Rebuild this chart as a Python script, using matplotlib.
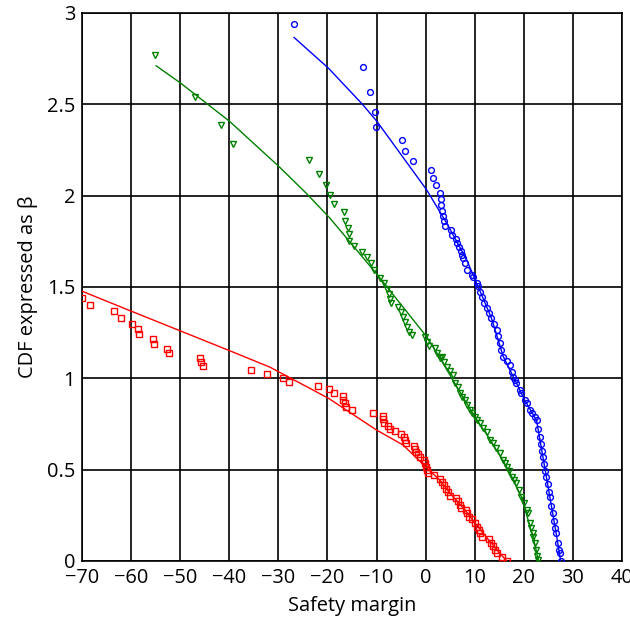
import matplotlib
matplotlib.use("Agg")
import matplotlib.pyplot as plt

plt.rcParams['font.family'] = ['Open Sans', 'DejaVu Sans']

# ---- data ----
red_x = [-69.9, -68.3, -63.5, -62.1, -59.8, -58.5, -58.3, -55.6, -55.4, -52.7, -52.2,
         -45.9, -45.8, -45.4, -35.5, -32.3, -29.0, -27.8, -22.0, -19.6, -18.7, -16.9,
         -16.8, -16.5, -16.3, -14.9, -10.8, -8.7, -8.6, -8.4, -7.6, -7.3, -6.2, -5.1,
         -4.4, -4.2, -3.9, -2.4, -2.2, -2.0, -1.5, -1.1, -0.4, -0.1, 0.0, 0.2, 0.5, 1.7,
         3.0, 3.3, 3.7, 4.1, 4.5, 4.9, 6.2, 6.6, 6.9, 7.3, 8.3, 8.5, 8.9, 9.4, 10.0,
         10.4, 10.8, 11.1, 11.5, 13.0, 13.4, 13.8, 14.2, 14.6, 15.6, 16.5]
red_y = [1.438, 1.400, 1.366, 1.333, 1.300, 1.270, 1.243, 1.214, 1.187, 1.161, 1.137,
         1.113, 1.090, 1.066, 1.044, 1.022, 1.000, 0.979, 0.960, 0.940, 0.920, 0.904,
         0.883, 0.864, 0.845, 0.827, 0.811, 0.794, 0.776, 0.757, 0.739, 0.724, 0.710, 0.694,
         0.679, 0.661, 0.646, 0.631, 0.615, 0.597, 0.584, 0.571, 0.553, 0.535, 0.516, 0.498,
         0.480, 0.471, 0.449, 0.431, 0.415, 0.396, 0.376, 0.356, 0.345, 0.327, 0.308, 0.290,
         0.279, 0.261, 0.243, 0.228, 0.206, 0.188, 0.170, 0.152, 0.133, 0.119, 0.100, 0.082,
         0.060, 0.042, 0.024, 0.002]

green_x = [-55.1, -47.0, -41.6, -39.2, -23.8, -21.8, -20.2, -19.4, -18.6, -16.6, -16.4,
           -15.9, -15.7, -15.7, -14.6, -13.0, -12.0, -11.2, -10.6, -9.2, -8.5, -7.9, -7.5,
           -7.3, -7.1, -5.6, -5.0, -4.7, -4.2, -3.7, -3.3, -2.7, -0.1, 0.3, 0.7, 2.0, 2.4,
           2.9, 3.3, 3.8, 4.3, 4.9, 5.6, 6.0, 6.5, 7.0, 7.5, 8.0, 8.5, 9.0, 9.5, 10.0, 10.5,
           11.1, 11.7, 12.4, 13.1, 13.8, 14.4, 15.1, 15.8, 16.1, 16.5, 17.0, 17.5, 17.9,
           18.5, 19.0, 19.5, 20.0, 20.6, 20.9, 21.2, 21.5, 21.9, 21.9, 22.2, 22.5, 22.6, 22.8]
green_y = [2.771, 2.539, 2.389, 2.282, 2.196, 2.121, 2.059, 2.004, 1.953, 1.909, 1.864,
           1.825, 1.789, 1.754, 1.723, 1.691, 1.663, 1.634, 1.594, 1.551, 1.521, 1.488, 1.461,
           1.433, 1.411, 1.389, 1.364, 1.338, 1.311, 1.283, 1.256, 1.238, 1.225, 1.201, 1.177,
           1.165, 1.137, 1.110, 1.119, 1.090, 1.064, 1.040, 1.019, 0.973, 0.950, 0.918, 0.900,
           0.882, 0.855, 0.827, 0.810, 0.790, 0.770, 0.754, 0.730, 0.708, 0.663, 0.645, 0.620,
           0.590, 0.553, 0.535, 0.516, 0.490, 0.462, 0.444, 0.426, 0.390, 0.352, 0.315, 0.279,
           0.261, 0.206, 0.180, 0.152, 0.133, 0.100, 0.060, 0.030, 0.005]

blue_x = [-26.8, -12.7, -11.4, -10.3, -10.2, -4.8, -4.2, -2.5, 1.1, 1.4, 2.2, 3.0, 3.1,
          3.2, 3.4, 3.6, 3.7, 3.9, 5.2, 5.4, 6.2, 6.4, 6.8, 7.2, 7.5, 7.7, 8.0, 8.5, 9.4,
          9.7, 10.4, 10.7, 11.0, 11.4, 11.9, 12.4, 12.9, 13.4, 14.0, 14.5, 14.8, 15.1, 15.4,
          15.8, 16.5, 17.2, 17.5, 17.8, 18.2, 18.5, 19.2, 19.5, 20.2, 20.6, 21.2, 21.6,
          22.2, 22.6, 22.9, 23.2, 23.4, 23.7, 23.9, 24.2, 24.4, 24.6, 24.9, 25.1, 25.3,
          25.6, 25.9, 26.1, 26.4, 26.6, 26.9, 27.2, 27.3, 27.5]
blue_y = [2.939, 2.707, 2.565, 2.457, 2.375, 2.304, 2.242, 2.189, 2.140, 2.094, 2.056,
          2.017, 1.983, 1.948, 1.917, 1.886, 1.860, 1.835, 1.811, 1.785, 1.762, 1.740, 1.718,
          1.696, 1.674, 1.657, 1.630, 1.594, 1.566, 1.557, 1.521, 1.505, 1.470, 1.447, 1.415,
          1.384, 1.355, 1.329, 1.295, 1.265, 1.230, 1.192, 1.155, 1.119, 1.095, 1.073, 1.037,
          1.010, 0.991, 0.973, 0.936, 0.918, 0.882, 0.864, 0.827, 0.809, 0.790, 0.772, 0.720,
          0.681, 0.640, 0.600, 0.571, 0.530, 0.490, 0.462, 0.420, 0.380, 0.352, 0.300, 0.261,
          0.220, 0.180, 0.152, 0.100, 0.060, 0.042, 0.002]

# fitted curves
red_fit_x = [-70, -60, -50, -40, -31.7, -19.8, -10.0, -4.6, 0.0, 3.0, 5.0, 8.0, 10.0, 13.0, 16.5]
red_fit_y = [1.477, 1.368, 1.260, 1.152, 1.061, 0.891, 0.717, 0.635, 0.516, 0.440, 0.370,
             0.280, 0.210, 0.110, 0.0]
green_fit_x = [-54.9, -49.9, -39.9, -29.9, -24.2, -19.5, -10.0, 0.2, 2.9, 6.0, 10.0, 13.0,
               16.5, 19.5, 22.0, 23.0]
green_fit_y = [2.711, 2.616, 2.406, 2.160, 2.010, 1.877, 1.572, 1.228, 1.112, 0.970, 0.790,
               0.670, 0.516, 0.352, 0.120, 0.0]
blue_fit_x = [-26.8, -19.8, -12.9, -9.9, 0.2, 4.3, 8.3, 10.7, 13.4, 15.8, 18.2, 20.2, 22.6,
              24.6, 26.6, 27.5]
blue_fit_y = [2.866, 2.698, 2.501, 2.406, 2.032, 1.849, 1.652, 1.502, 1.330, 1.120, 0.990,
              0.880, 0.770, 0.460, 0.150, 0.0]

x_ticks = [-70, -60, -50, -40, -30, -20, -10, 0, 10, 20, 30, 40]
y_ticks = [0, 0.5, 1, 1.5, 2, 2.5, 3]
y_tick_labels = ['0', '0.5', '1', '1.5', '2', '2.5', '3']

RED, GREEN, BLUE = '#ff0000', '#008000', '#0000ff'

fig = plt.figure(figsize=(6.3, 6.28), dpi=100)
ax = fig.add_axes([82 / 630, (628 - 561) / 628, (622 - 82) / 630, (561 - 13) / 628])

ax.plot(red_fit_x, red_fit_y, color=RED, lw=1.0, zorder=3)
ax.plot(green_fit_x, green_fit_y, color=GREEN, lw=1.0, zorder=3)
ax.plot(blue_fit_x, blue_fit_y, color=BLUE, lw=1.0, zorder=3)

ms = 4.2
ax.plot(red_x, red_y, ls='none', marker='s', ms=ms, mfc='none', mec=RED, mew=1.0, zorder=4)
ax.plot(green_x, green_y, ls='none', marker='v', ms=ms, mfc='none', mec=GREEN, mew=1.0, zorder=4)
ax.plot(blue_x, blue_y, ls='none', marker='o', ms=ms, mfc='none', mec=BLUE, mew=1.0, zorder=4)

ax.set_xlim(-70, 40)
ax.set_ylim(0, 3)
ax.set_xticks(x_ticks)
ax.set_yticks(y_ticks)
ax.set_yticklabels(y_tick_labels)
ax.grid(True, color='black', lw=1.2, zorder=1)
ax.set_axisbelow(True)
for s in ax.spines.values():
    s.set_color('black')
    s.set_linewidth(1.2)
ax.tick_params(length=0, labelsize=14.4, pad=5)
ax.set_xlabel('Safety margin', fontsize=14.4, labelpad=6)
ax.set_ylabel('CDF expressed as β', fontsize=14.4, labelpad=6)

fig.savefig('out.png', dpi=100)
